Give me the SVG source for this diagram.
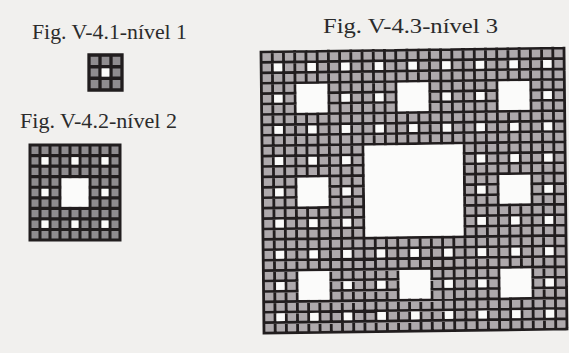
<svg xmlns="http://www.w3.org/2000/svg" xmlns:xlink="http://www.w3.org/1999/xlink" width="569" height="353" viewBox="0 0 569 353">
<style>
.bg{fill:#f1f0ee}
.lbl{font-family:"Liberation Serif","DejaVu Serif",serif;fill:#2b2b2b}
.cellA{fill:#8f8c8f}
.cellB{fill:#aea9ac}
.gridA{fill:none;stroke:#211d1e;stroke-width:0.3;stroke-linecap:square}
.gridB{fill:none;stroke:#211d1e;stroke-width:0.25;stroke-linecap:square}
.hole{fill:#fbfbfa}
</style>
<defs>
<rect id="h1a" x="0.15" y="0.15" width="0.7" height="0.7" class="hole"/>
<rect id="h1b" x="0.125" y="0.125" width="0.75" height="0.75" class="hole"/>
</defs>
<rect class="bg" x="0" y="0" width="569" height="353"/>

<g id="labels">
<text class="lbl" x="32" y="39" font-size="21" textLength="155" lengthAdjust="spacingAndGlyphs">Fig. V-4.1-nível 1</text>
<text class="lbl" x="20" y="128" font-size="21.5" textLength="157" lengthAdjust="spacingAndGlyphs">Fig. V-4.2-nível 2</text>
<text class="lbl" x="323" y="33" font-size="22" textLength="175" lengthAdjust="spacingAndGlyphs">Fig. V-4.3-nível 3</text>
</g>

<g id="nivel1" transform="matrix(11 0 0 11.67 89 55)">
<rect class="cellA" x="0" y="0" width="3" height="3"/>
<path class="gridA" d="M0 0V3M1 0V3M2 0V3M3 0V3M0 0H3M0 1H3M0 2H3M0 3H3"/>
<use xlink:href="#h1a" x="1" y="1"/>
</g>

<g id="nivel2" transform="matrix(10 0 0 10.56 30 145)">
<rect class="cellA" x="0" y="0" width="9" height="9"/>
<path class="gridA" d="M0 0V9M1 0V9M2 0V9M3 0V9M4 0V9M5 0V9M6 0V9M7 0V9M8 0V9M9 0V9M0 0H9M0 1H9M0 2H9M0 3H9M0 4H9M0 5H9M0 6H9M0 7H9M0 8H9M0 9H9"/>
<rect class="hole" x="3.15" y="3.15" width="2.7" height="2.7"/>
<use xlink:href="#h1a" x="1" y="1"/><use xlink:href="#h1a" x="4" y="1"/><use xlink:href="#h1a" x="7" y="1"/>
<use xlink:href="#h1a" x="1" y="4"/><use xlink:href="#h1a" x="7" y="4"/>
<use xlink:href="#h1a" x="1" y="7"/><use xlink:href="#h1a" x="4" y="7"/><use xlink:href="#h1a" x="7" y="7"/>
</g>

<g id="nivel3" transform="matrix(11.222 -0.148 0.111 10.41 261 52)">
<rect class="cellB" x="0" y="0" width="27" height="27"/>
<path class="gridB" d="M0 0V27M1 0V27M2 0V27M3 0V27M4 0V27M5 0V27M6 0V27M7 0V27M8 0V27M9 0V27M10 0V27M11 0V27M12 0V27M13 0V27M14 0V27M15 0V27M16 0V27M17 0V27M18 0V27M19 0V27M20 0V27M21 0V27M22 0V27M23 0V27M24 0V27M25 0V27M26 0V27M27 0V27M0 0H27M0 1H27M0 2H27M0 3H27M0 4H27M0 5H27M0 6H27M0 7H27M0 8H27M0 9H27M0 10H27M0 11H27M0 12H27M0 13H27M0 14H27M0 15H27M0 16H27M0 17H27M0 18H27M0 19H27M0 20H27M0 21H27M0 22H27M0 23H27M0 24H27M0 25H27M0 26H27M0 27H27"/>
<rect class="hole" x="9.125" y="9.125" width="8.75" height="8.75"/>
<rect class="hole" x="3.125" y="3.125" width="2.75" height="2.75"/>
<rect class="hole" x="12.125" y="3.125" width="2.75" height="2.75"/>
<rect class="hole" x="21.125" y="3.125" width="2.75" height="2.75"/>
<rect class="hole" x="3.125" y="12.125" width="2.75" height="2.75"/>
<rect class="hole" x="21.125" y="12.125" width="2.75" height="2.75"/>
<rect class="hole" x="3.125" y="21.125" width="2.75" height="2.75"/>
<rect class="hole" x="12.125" y="21.125" width="2.75" height="2.75"/>
<rect class="hole" x="21.125" y="21.125" width="2.75" height="2.75"/>
<use xlink:href="#h1b" x="1" y="1"/><use xlink:href="#h1b" x="4" y="1"/><use xlink:href="#h1b" x="7" y="1"/><use xlink:href="#h1b" x="10" y="1"/><use xlink:href="#h1b" x="13" y="1"/><use xlink:href="#h1b" x="16" y="1"/><use xlink:href="#h1b" x="19" y="1"/><use xlink:href="#h1b" x="22" y="1"/><use xlink:href="#h1b" x="25" y="1"/>
<use xlink:href="#h1b" x="1" y="4"/><use xlink:href="#h1b" x="7" y="4"/><use xlink:href="#h1b" x="10" y="4"/><use xlink:href="#h1b" x="16" y="4"/><use xlink:href="#h1b" x="19" y="4"/><use xlink:href="#h1b" x="25" y="4"/>
<use xlink:href="#h1b" x="1" y="7"/><use xlink:href="#h1b" x="4" y="7"/><use xlink:href="#h1b" x="7" y="7"/><use xlink:href="#h1b" x="10" y="7"/><use xlink:href="#h1b" x="13" y="7"/><use xlink:href="#h1b" x="16" y="7"/><use xlink:href="#h1b" x="19" y="7"/><use xlink:href="#h1b" x="22" y="7"/><use xlink:href="#h1b" x="25" y="7"/>
<use xlink:href="#h1b" x="1" y="10"/><use xlink:href="#h1b" x="4" y="10"/><use xlink:href="#h1b" x="7" y="10"/><use xlink:href="#h1b" x="19" y="10"/><use xlink:href="#h1b" x="22" y="10"/><use xlink:href="#h1b" x="25" y="10"/>
<use xlink:href="#h1b" x="1" y="13"/><use xlink:href="#h1b" x="7" y="13"/><use xlink:href="#h1b" x="19" y="13"/><use xlink:href="#h1b" x="25" y="13"/>
<use xlink:href="#h1b" x="1" y="16"/><use xlink:href="#h1b" x="4" y="16"/><use xlink:href="#h1b" x="7" y="16"/><use xlink:href="#h1b" x="19" y="16"/><use xlink:href="#h1b" x="22" y="16"/><use xlink:href="#h1b" x="25" y="16"/>
<use xlink:href="#h1b" x="1" y="19"/><use xlink:href="#h1b" x="4" y="19"/><use xlink:href="#h1b" x="7" y="19"/><use xlink:href="#h1b" x="10" y="19"/><use xlink:href="#h1b" x="13" y="19"/><use xlink:href="#h1b" x="16" y="19"/><use xlink:href="#h1b" x="19" y="19"/><use xlink:href="#h1b" x="22" y="19"/><use xlink:href="#h1b" x="25" y="19"/>
<use xlink:href="#h1b" x="1" y="22"/><use xlink:href="#h1b" x="7" y="22"/><use xlink:href="#h1b" x="10" y="22"/><use xlink:href="#h1b" x="16" y="22"/><use xlink:href="#h1b" x="19" y="22"/><use xlink:href="#h1b" x="25" y="22"/>
<use xlink:href="#h1b" x="1" y="25"/><use xlink:href="#h1b" x="4" y="25"/><use xlink:href="#h1b" x="7" y="25"/><use xlink:href="#h1b" x="10" y="25"/><use xlink:href="#h1b" x="13" y="25"/><use xlink:href="#h1b" x="16" y="25"/><use xlink:href="#h1b" x="19" y="25"/><use xlink:href="#h1b" x="22" y="25"/><use xlink:href="#h1b" x="25" y="25"/>
</g>
</svg>
